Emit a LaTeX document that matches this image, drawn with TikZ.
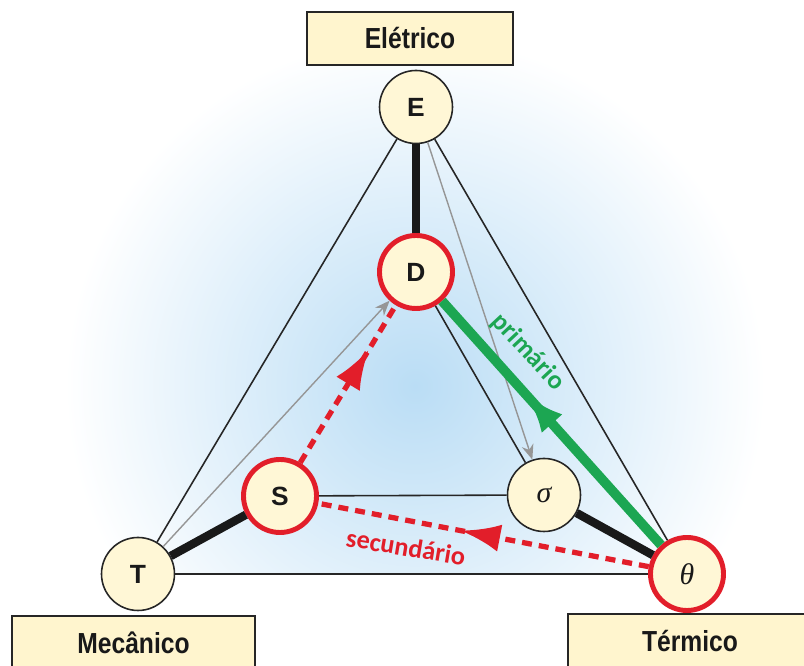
\documentclass[tikz,border=0pt]{standalone}
\usepackage{fontspec}
\setmainfont{Liberation Sans}
\newfontfamily\boxfont{Liberation Sans}[FakeStretch=0.85]
\newfontfamily\tagfont{Carlito}
\newfontfamily\greekfont{Liberation Serif}
\usetikzlibrary{arrows.meta,decorations.markings}

\definecolor{nodefill}{RGB}{255,247,214}
\definecolor{boxfill}{RGB}{255,245,206}
\definecolor{glow}{RGB}{186,221,245}
\definecolor{flowred}{RGB}{226,30,42}
\definecolor{flowgreen}{RGB}{28,166,82}
\definecolor{linkgray}{RGB}{150,150,150}

\begin{document}
\begin{tikzpicture}[
    state/.style={circle, draw=black!85, line width=0.9pt, fill=nodefill, minimum size=1.46cm, inner sep=0pt,
        text=black!90, font=\bfseries\fontsize{15}{15}\selectfont},
    mainstate/.style={state, draw=flowred, line width=2.8pt},
    domain/.style={draw=black!85, line width=1pt, fill=boxfill, minimum width=#1, minimum height=1.07cm,
        text=black!90, font=\boxfont\bfseries\fontsize{16.5}{16.5}\selectfont},
    link/.style={line width=0.9pt, black!85},
    bond/.style={line width=4.8pt, black!90},
    cross/.style={line width=0.8pt, linkgray, -{Stealth[length=3mm,width=2.4mm]}},
    redflow/.style={flowred, line width=3pt, dash pattern=on 2mm off 1.4mm},
    midarrow/.style={decoration={markings, mark=at position #1 with {\arrow{Latex[length=8mm,width=5.5mm]}}}, postaction={decorate}},
    tag/.style={font=\tagfont\bfseries\fontsize{15}{15}\selectfont},
]
    \useasboundingbox (0,0) rectangle (16.08,13.32);
    \clip (0,0) rectangle (16.08,13.32);

    % Blue glow behind the triangle
    \begin{scope}
        \clip (0,1.84) rectangle (16.08,13.32);
        \shade[inner color=glow, outer color=white] (8.3,5.6) circle (7cm);
    \end{scope}

    % Domain boxes
    \node[domain=4.12cm] (electric) at (8.2,12.55) {Elétrico};
    \node[domain=4.86cm] (mechanic) at (2.67,0.46) {Mecânico};
    \node[domain=4.88cm] (thermal) at (13.8,0.5) {Térmico};

    % States
    \node[state] (E) at (8.32,11.18) {E};
    \node[mainstate] (D) at (8.32,7.88) {D};
    \node[mainstate] (S) at (5.60,3.40) {S};
    \node[state, font=\greekfont\itshape\fontsize{17}{17}\selectfont] (sigma) at (10.88,3.42) {σ};
    \node[mainstate, font=\greekfont\itshape\fontsize{17}{17}\selectfont] (theta) at (13.74,1.84) {θ};
    \node[state] (T) at (2.76,1.84) {T};

    % Outer triangle
    \draw[link] (E) -- (T);
    \draw[link] (E) -- (theta);
    \draw[link] (T) -- (theta);

    % Inner links
    \draw[link] (D) -- (sigma);
    \draw[link] (S) -- (sigma);

    % Strong couplings
    \draw[bond] (E) -- (D);
    \draw[bond] (S) -- (T);
    \draw[bond] (sigma) -- (theta);

    % Cross couplings
    \draw[cross] (T) -- (D);
    \draw[cross] (E) -- (sigma);

    % Primary and secondary paths
    \draw[flowgreen, line width=5.5pt, midarrow=0.62] (theta) -- (D);
    \draw[redflow, midarrow=0.57] (theta) -- (S);
    \draw[redflow, midarrow=0.72] (S) -- (D);

    \node[tag, text=flowgreen, rotate=-47] (primary) at (10.56,6.28) {primário};
    \node[tag, text=flowred, rotate=-9.5] (secondary) at (8.12,2.38) {secundário};
\end{tikzpicture}
\end{document}
